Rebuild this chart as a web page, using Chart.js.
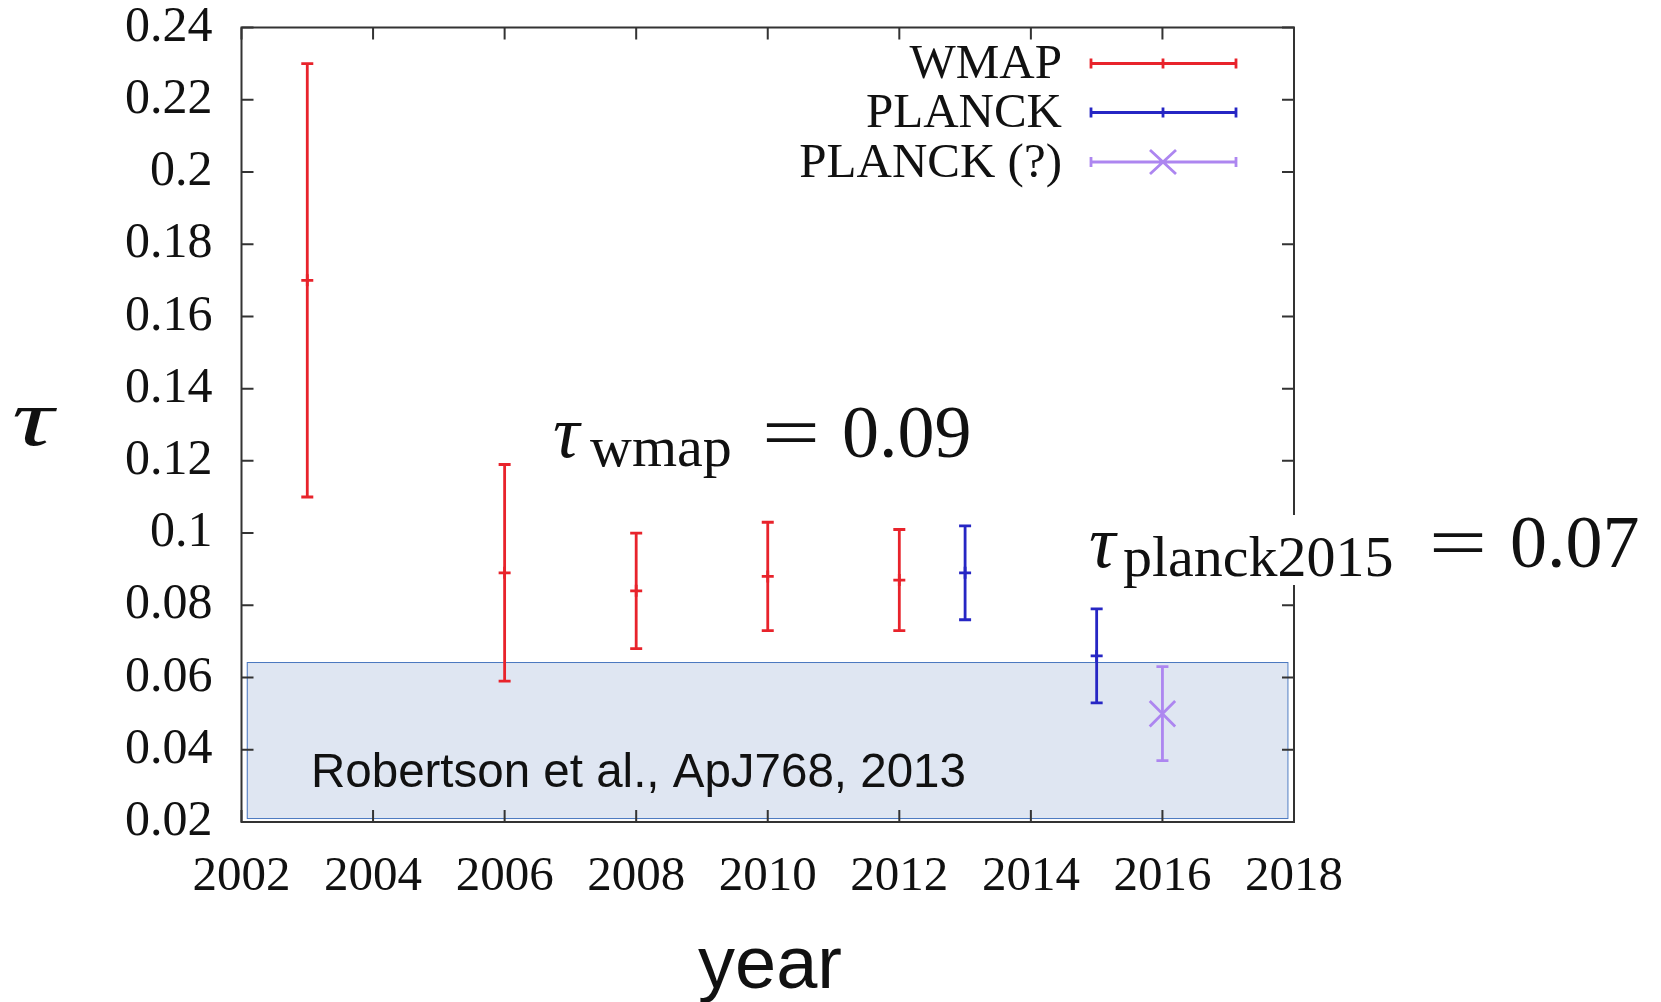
<!DOCTYPE html>
<html>
<head>
<meta charset="utf-8">
<script src="https://cdn.jsdelivr.net/npm/chart.js@4.4.1/dist/chart.umd.min.js"></script>
<style>
  html, body { margin: 0; padding: 0; background: #fff; }
  #wrap { width: 1661px; height: 1002px; }
</style>
</head>
<body>
<div id="wrap"><canvas id="c" width="1661" height="1002"></canvas></div>
<script>
"use strict";

const wmapYears = [2003, 2006, 2008, 2010, 2012];
const wmapTau   = [0.170, 0.089, 0.084, 0.088, 0.087];
const wmapHigh  = [0.230, 0.119, 0.100, 0.103, 0.101];
const wmapLow   = [0.110, 0.059, 0.068, 0.073, 0.073];

const planckYears = [2013, 2015];
const planckTau   = [0.089, 0.066];
const planckHigh  = [0.102, 0.079];
const planckLow   = [0.076, 0.053];

const planckQYears = [2016];
const planckQTau   = [0.050];
const planckQHigh  = [0.063];
const planckQLow   = [0.037];

const xTicks = [2002, 2004, 2006, 2008, 2010, 2012, 2014, 2016, 2018];
const yTicks = [0.02, 0.04, 0.06, 0.08, 0.1, 0.12, 0.14, 0.16, 0.18, 0.2, 0.22, 0.24];

// shaded Robertson et al. range (x span, tau span)
const bandX = [2002.08, 2017.9];
const bandY = [0.0211, 0.0643];

const C = {wmap:'#e8232b', planck:'#2626c4', planckQ:'#ad86f0', frame:'#333', ink:'#111'};
const SERIF = '"Liberation Serif", "Times New Roman", serif';
const SANS = '"Liberation Sans", Arial, sans-serif';
const CAP = 6;

const pts = (xs, ys, hi, lo) => xs.map((x, i) => ({x, y:ys[i], hi:hi[i], lo:lo[i]}));

const errorBars = {
  id: 'errorBars',
  beforeDatasetsDraw(chart) {
    const {ctx, scales:{x, y}} = chart;
    chart.data.datasets.forEach(ds => {
      ctx.save();
      ctx.strokeStyle = ds.borderColor;
      ctx.lineWidth = 2.8;
      ds.data.forEach(p => {
        const px = x.getPixelForValue(p.x), hi = y.getPixelForValue(p.hi), lo = y.getPixelForValue(p.lo);
        ctx.beginPath();
        ctx.moveTo(px, hi); ctx.lineTo(px, lo);
        ctx.moveTo(px - CAP, hi); ctx.lineTo(px + CAP, hi);
        ctx.moveTo(px - CAP, lo); ctx.lineTo(px + CAP, lo);
        ctx.stroke();
      });
      ctx.restore();
    });
  }
};

// shaded band sits under the marks
const band = {
  id: 'band',
  beforeDatasetsDraw(chart) {
    const {ctx, scales:{x, y}} = chart;
    const l = x.getPixelForValue(bandX[0]), r = x.getPixelForValue(bandX[1]);
    const t = y.getPixelForValue(bandY[1]), b = y.getPixelForValue(bandY[0]);
    ctx.save();
    ctx.fillStyle = '#dfe6f2';
    ctx.fillRect(l, t, r - l, b - t);
    ctx.strokeStyle = '#4a78c0';
    ctx.lineWidth = 1;
    ctx.strokeRect(l + 0.5, t + 0.5, r - l, b - t);
    ctx.fillStyle = C.ink;
    ctx.font = '47.5px ' + SANS;
    ctx.textBaseline = 'alphabetic';
    ctx.fillText('Robertson et al., ApJ768, 2013', 311, 787);
    ctx.restore();
  }
};

// gnuplot-like frame with inward ticks on all four sides
const frame = {
  id: 'frame',
  beforeDatasetsDraw(chart) {
    const {ctx, chartArea:a, scales:{x, y}} = chart;
    ctx.save();
    ctx.strokeStyle = C.frame;
    ctx.lineWidth = 2;
    ctx.strokeRect(a.left, a.top, a.right - a.left, a.bottom - a.top);
    ctx.beginPath();
    xTicks.forEach(v => {
      const px = x.getPixelForValue(v);
      ctx.moveTo(px, a.bottom); ctx.lineTo(px, a.bottom - 12);
      ctx.moveTo(px, a.top); ctx.lineTo(px, a.top + 12);
    });
    yTicks.forEach(v => {
      const py = y.getPixelForValue(v);
      ctx.moveTo(a.left, py); ctx.lineTo(a.left + 12, py);
      ctx.moveTo(a.right, py); ctx.lineTo(a.right - 12, py);
    });
    ctx.stroke();
    ctx.restore();
  }
};

function eq(ctx, cx, base) {
  ctx.save();
  ctx.font = '74px ' + SERIF;
  ctx.textAlign = 'center';
  ctx.translate(cx, base);
  ctx.scale(1.4, 1);
  ctx.fillText('=', 0, 0);
  ctx.restore();
}

function mathLabel(ctx, x0, base, sub, val, eqX, valX, subX) {
  ctx.font = 'italic 74px ' + SERIF;
  ctx.fillText('\u03c4', x0, base);
  ctx.font = '58px ' + SERIF;
  ctx.fillText(sub, subX, base + 9);
  eq(ctx, eqX, base);
  ctx.font = '74px ' + SERIF;
  ctx.fillText(val, valX, base);
}

const notes = {
  id: 'notes',
  afterDraw(chart) {
    const {ctx} = chart;
    ctx.save();
    // legend, gnuplot style: text right aligned, sample to the right
    const rows = [['WMAP', C.wmap, 'cross'], ['PLANCK', C.planck, 'cross'], ['PLANCK (?)', C.planckQ, 'crossRot']];
    const rowY = [63.5, 112.5, 162];
    rows.forEach(([label, col, mark], i) => {
      const yy = rowY[i];
      ctx.fillStyle = C.ink;
      ctx.font = '49px ' + SERIF;
      ctx.textAlign = 'right';
      ctx.textBaseline = 'middle';
      ctx.fillText(label, 1062, yy + 2);
      ctx.strokeStyle = col;
      ctx.lineWidth = 2.8;
      ctx.beginPath();
      ctx.moveTo(1091, yy); ctx.lineTo(1236, yy);
      ctx.moveTo(1091, yy - 5); ctx.lineTo(1091, yy + 5);
      ctx.moveTo(1236, yy - 5); ctx.lineTo(1236, yy + 5);
      if (mark === 'cross') { ctx.moveTo(1163, yy - 5); ctx.lineTo(1163, yy + 5); }
      else { ctx.moveTo(1150, yy - 12); ctx.lineTo(1176, yy + 12); ctx.moveTo(1176, yy - 12); ctx.lineTo(1150, yy + 12); }
      ctx.stroke();
    });

    ctx.fillStyle = '#fff';
    ctx.fillRect(1078, 515, 583, 70);
    ctx.fillStyle = C.ink;
    ctx.textAlign = 'left';
    ctx.textBaseline = 'alphabetic';
    mathLabel(ctx, 553, 457, 'wmap', '0.09', 791, 842, 590);
    mathLabel(ctx, 1089, 567, 'planck2015', '0.07', 1458, 1510, 1123);

    // y axis symbol and x axis title
    ctx.font = 'italic 80px ' + SERIF;
    ctx.save();
    ctx.translate(12, 445);
    ctx.scale(1.45, 1);
    ctx.fillText('\u03c4', 0, 0);
    ctx.restore();
    ctx.font = '74px ' + SANS;
    ctx.textAlign = 'center';
    ctx.fillText('year', 770, 988);
    ctx.restore();
  }
};

new Chart(document.getElementById('c'), {
  type: 'scatter',
  data: {
    datasets: [
      {label:'WMAP', data:pts(wmapYears, wmapTau, wmapHigh, wmapLow), borderColor:C.wmap, backgroundColor:C.wmap,
       pointStyle:'cross', pointRadius:6, borderWidth:2.8},
      {label:'PLANCK', data:pts(planckYears, planckTau, planckHigh, planckLow), borderColor:C.planck, backgroundColor:C.planck,
       pointStyle:'cross', pointRadius:6, borderWidth:2.8},
      {label:'PLANCK (?)', data:pts(planckQYears, planckQTau, planckQHigh, planckQLow), borderColor:C.planckQ, backgroundColor:C.planckQ,
       pointStyle:'crossRot', pointRadius:18, borderWidth:2.8},
    ]
  },
  options: {
    responsive: false,
    animation: false,
    devicePixelRatio: 1,
    layout: {padding: {left:0, right:367, top:27.5, bottom:0}},
    plugins: {legend:{display:false}, tooltip:{enabled:false}},
    scales: {
      x: {
        type:'linear', min:2002, max:2018,
        afterBuildTicks: s => { s.ticks = xTicks.map(v => ({value:v})); },
        afterFit: s => { s.height = 180; s.paddingTop = 0; s.paddingBottom = 0; },
        grid: {display:false}, border: {display:false},
        ticks: {autoSkip:false, maxRotation:0, padding:18, color:C.ink, font:{family:SERIF, size:49},
                callback: v => String(v)}
      },
      y: {
        min:0.02, max:0.24,
        afterBuildTicks: s => { s.ticks = yTicks.map(v => ({value:v})); },
        afterFit: s => { s.width = 241.5; s.paddingTop = 0; s.paddingBottom = 0; },
        grid: {display:false, drawTicks:false}, border: {display:false},
        ticks: {padding:29, color:C.ink, font:{family:SERIF, size:50, lineHeight:1.1},
                callback: v => String(+v.toFixed(2))}
      }
    }
  },
  plugins: [band, frame, errorBars, notes]
});
</script>
</body>
</html>
